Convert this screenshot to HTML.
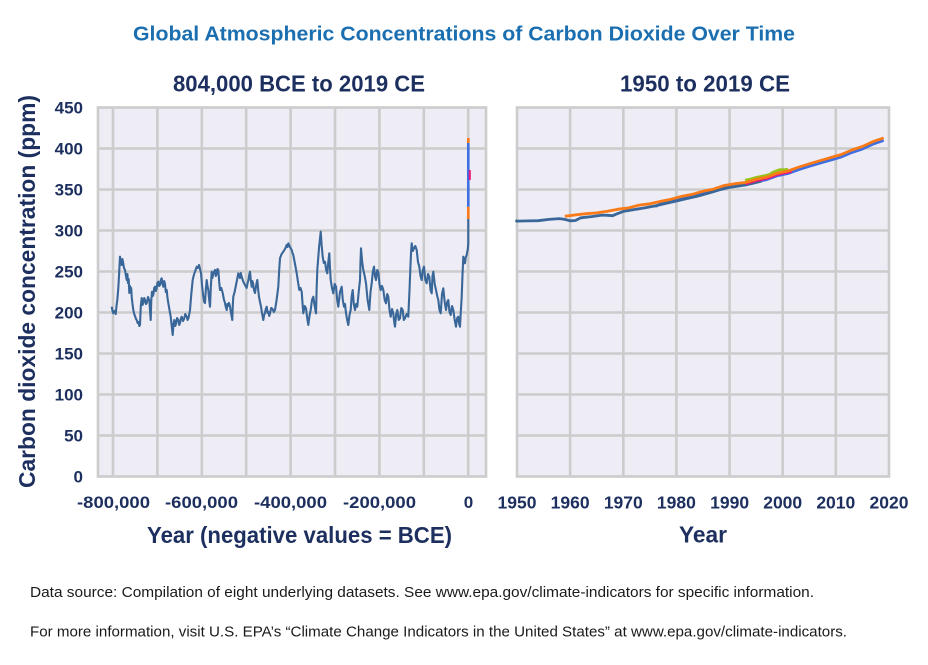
<!DOCTYPE html>
<html>
<head>
<meta charset="utf-8">
<style>
  html, body { margin: 0; padding: 0; background: #ffffff; }
  svg { display: block; }
  text { font-family: "Liberation Sans", sans-serif; }
</style>
</head>
<body>
<svg width="928" height="665" viewBox="0 0 928 665" xmlns="http://www.w3.org/2000/svg">
  <rect x="0" y="0" width="928" height="665" fill="#ffffff"/>

  <!-- Title -->
  <text x="133" y="40.5" font-size="20" font-weight="bold" fill="#1b6fb0" textLength="662" lengthAdjust="spacingAndGlyphs">Global Atmospheric Concentrations of Carbon Dioxide Over Time</text>

  <!-- Subtitles -->
  <text x="173" y="91.5" font-size="23" font-weight="bold" fill="#1c2f5e" textLength="252" lengthAdjust="spacingAndGlyphs">804,000 BCE to 2019 CE</text>
  <text x="620" y="91.5" font-size="23" font-weight="bold" fill="#1c2f5e" textLength="170" lengthAdjust="spacingAndGlyphs">1950 to 2019 CE</text>

  <!-- LEFT PLOT -->
  <rect x="98" y="107.5" width="388" height="369" fill="#eeecf5"/>
  <g stroke="#cccccc" stroke-width="2.6" fill="none">
    <line x1="113" y1="107.5" x2="113" y2="476.5"/>
    <line x1="157.4" y1="107.5" x2="157.4" y2="476.5"/>
    <line x1="201.8" y1="107.5" x2="201.8" y2="476.5"/>
    <line x1="246.2" y1="107.5" x2="246.2" y2="476.5"/>
    <line x1="290.6" y1="107.5" x2="290.6" y2="476.5"/>
    <line x1="335" y1="107.5" x2="335" y2="476.5"/>
    <line x1="379.4" y1="107.5" x2="379.4" y2="476.5"/>
    <line x1="423.8" y1="107.5" x2="423.8" y2="476.5"/>
    <line x1="468.2" y1="107.5" x2="468.2" y2="476.5"/>
    <line x1="98" y1="148.5" x2="486" y2="148.5"/>
    <line x1="98" y1="189.5" x2="486" y2="189.5"/>
    <line x1="98" y1="230.5" x2="486" y2="230.5"/>
    <line x1="98" y1="271.5" x2="486" y2="271.5"/>
    <line x1="98" y1="312.5" x2="486" y2="312.5"/>
    <line x1="98" y1="353.5" x2="486" y2="353.5"/>
    <line x1="98" y1="394.5" x2="486" y2="394.5"/>
    <line x1="98" y1="435.5" x2="486" y2="435.5"/>
    <rect x="98" y="107.5" width="388" height="369"/>
  </g>

  <!-- left historical series -->
  <polyline fill="none" stroke="#3a6799" stroke-width="2.1" stroke-linejoin="round" points="
111.7,306.7 112.5,311 113.3,313.3 114.5,311 115.7,314 116.5,306 117.3,300 118,292 118.5,285 119.3,270 120,256.7 120.8,262 121.7,265 122.4,259 123,262 124,268 125,270 125.8,275 126.7,280 127.4,274 128,283 128.7,279 129.3,293 130,286 130.5,291 131.2,288 131.7,296.7 132.5,304 133.3,310 134.2,314 135,316 136,319 136.7,320 137.6,323 138.5,322 139.3,326 140,325 140.8,306 141.7,298 142.5,305 143.3,303 144.2,298 145,300 146,304 146.7,303 148,297 149.3,300 150,310 150.7,320 151.3,300 152,291.7 152.8,296 153.5,294 154.2,288 155,286.7 155.8,291 156.5,289 157.4,283 158.3,281.7 159.2,286 160,285 160.8,280 161.7,278.3 162.5,284 163.3,286.7 164.2,281 165,284 165.8,292 166.7,290 167.5,298 168.3,303 169.5,310 170.7,316.7 171.7,326 172.7,335 173.5,324 174.3,320 175.2,326 176,324 177,318 178.3,320 179.2,325 180,323 181,318 181.7,316.7 183,321 184,319 185.3,314 186.7,316.7 187.6,320 188.5,318 189.3,314 190,310 191.3,294 192.7,280 193.6,276 194.5,273 195.6,270 196.7,266.7 197.8,268 199,265 200,269 201,273 202,285 203.3,296.7 204.2,302 205,303 205.8,290 206.7,280 207.5,286 208.3,290 209.2,300 210,306.7 210.8,288 211.7,271.7 212.4,278 213,275 214,272 215,270 215.8,276 216.5,274 217.4,269 218.3,270 219.2,282 220,290 221.3,288 222.7,293 223.8,299 225,303 225.8,307 226.7,310 227.4,304 228,306 229,303 230,306.7 231.2,314 232.3,320 232.8,305 233.3,296.7 234.6,292 236,285 237.2,279 238.3,273.3 239.2,276 240,278 240.8,273 241.5,276 242.4,279 243.3,281.7 245,285 246.7,288 247.6,283 248.5,280 249.2,275 250,271.7 250.8,280 251.7,286.7 252.4,281 253,283 254,290 255,293 256.2,285 257.3,280 258.2,290 259,296.7 260,302 261,306.7 262.2,314 263.3,320 264.2,315 265,313 265.8,309 266.7,306.7 267.6,313 268.5,312 269.2,316 270,313.3 271.2,308 272.5,309 273.8,312 275,310 276.6,300 278.3,286.7 279.2,270 280,258.3 281.6,254 283.3,251.7 285,249 286.7,245 287.5,247 288.3,243.3 290,247 291.7,250 292.5,253 293.3,255 295,264 296.7,273.3 298,282 299.3,290 300.5,288 301.7,291.7 302.5,303 303.3,313.3 304.7,306 306,308.3 307.2,318 308.3,325 309.5,316 310.7,310 312,300 313.3,296.7 314.7,306 316,313.3 316.6,290 317.3,270 319,248 320.7,231.7 321.7,246 322.7,256.7 323.8,263 325,261.7 326.2,270 327.3,273.3 328.3,262 329.3,253.3 330,268 330.7,280 332,288 333.3,293.3 334.7,284 336,286.7 337.2,300 338.3,306.7 340,292 341.7,286.7 342.8,300 344,306.7 345,304 346,313.3 347.2,320 348.3,325 349.5,315 350.7,310 351.7,296 352.7,290 353.8,304 355,310 356.2,304 357.3,306.7 358.7,292 360,280 360.5,262 361,248.3 362.2,262 363.3,270 364.7,276 366,283.3 367.6,300 369.3,310 370.5,292 371.7,283.3 372.8,272 374,266.7 375,276 376,280 377.2,270 378.3,271.7 379.5,284 380.7,290 382,286 383.3,290 384.7,300 386,303.3 387.2,294 388.3,296.7 389.5,310 390.7,316.7 392,309 393.3,313.3 394.2,322 395,326.7 396.2,314 397.3,310 398.7,320 400,318.3 401.3,308 402.7,310 403.8,320 405,318.3 406.7,314 408.3,316.7 409.5,290 410.7,260 411.2,250 411.7,243.3 412.8,251 414,248.3 415.3,246 416.7,250 418,262 419.3,266.7 420.5,276 421.7,280 422.8,270 424,266.7 425.3,280 426.7,283.3 428,274 429.3,276.7 430.5,290 431.7,293.3 432.5,276 433.3,271.7 434.7,284 436,290 437.2,296 438.3,300 439.5,310 440.7,313.3 442,294 443.3,288.3 444.7,302 446,310 447.2,302 448.3,300 449.5,312 450.7,315 452,306 453.3,310 454.7,320 456,326.7 457.2,318 458.3,316.7 459.2,324 460,326.7 460.8,312 461.7,296.7 462.5,275 463.3,256.7 464.2,260 465,263.3 465.8,257 466.7,255 467.2,252 467.7,250 468.3,243.3 468.3,218"/>
  <!-- modern spike -->
  <line x1="468.3" y1="219" x2="468.3" y2="206.7" stroke="#f97a16" stroke-width="2.6"/>
  <line x1="468.3" y1="206.7" x2="468.3" y2="143" stroke="#3f6fe0" stroke-width="2.6"/>
  <line x1="469.8" y1="180" x2="469.8" y2="170" stroke="#e8177d" stroke-width="2"/>
  <line x1="468.3" y1="143" x2="468.3" y2="138" stroke="#f97a16" stroke-width="2.6"/>

  <!-- RIGHT PLOT -->
  <rect x="517" y="107.5" width="372" height="369" fill="#eeecf5"/>
  <g stroke="#cccccc" stroke-width="2.6" fill="none">
    <line x1="570.1" y1="107.5" x2="570.1" y2="476.5"/>
    <line x1="623.3" y1="107.5" x2="623.3" y2="476.5"/>
    <line x1="676.4" y1="107.5" x2="676.4" y2="476.5"/>
    <line x1="729.6" y1="107.5" x2="729.6" y2="476.5"/>
    <line x1="782.7" y1="107.5" x2="782.7" y2="476.5"/>
    <line x1="835.8" y1="107.5" x2="835.8" y2="476.5"/>
    <line x1="517" y1="148.5" x2="889" y2="148.5"/>
    <line x1="517" y1="189.5" x2="889" y2="189.5"/>
    <line x1="517" y1="230.5" x2="889" y2="230.5"/>
    <line x1="517" y1="271.5" x2="889" y2="271.5"/>
    <line x1="517" y1="312.5" x2="889" y2="312.5"/>
    <line x1="517" y1="353.5" x2="889" y2="353.5"/>
    <line x1="517" y1="394.5" x2="889" y2="394.5"/>
    <line x1="517" y1="435.5" x2="889" y2="435.5"/>
    <rect x="517" y="107.5" width="372" height="369"/>
  </g>

  <!-- Cape Grim-like blue -->
  <polyline fill="none" stroke="#3f6fe0" stroke-width="2.8" stroke-linejoin="round" points="
655.2,206.5 660.5,203.9 671.1,201.7 681.7,198.9 692.4,196.8 703,193.7 713.6,191.6 724.2,188 734.9,186.2 745.5,185 756.1,181.8 766.8,179.6 777.4,175.7 788,173.5 798.6,169.7 809.3,166.3 819.9,163.2 830.5,160.1 841.2,157 851.8,152.5 862.4,149 873,144.1 883.7,140.4"/>
  <!-- historical blue-gray -->
  <polyline fill="none" stroke="#3a6799" stroke-width="2.8" stroke-linejoin="round" points="
515.5,220.3 517,221.1 527.6,220.9 538.3,220.7 548.9,219.4 554.2,219 559.5,218.6 564.8,219.4 570.1,220.8 575.5,220.5 580.8,217.8 591.4,216.6 602.1,215.1 607.4,215.3 612.7,215.7 618,213.4 623.3,211.4 633.9,209.6 644.6,207.9 655.2,205.9 665.8,203.4 676.4,201 687.1,198.5 697.7,196.1 708.3,193.2 719,189.9 729.6,187.4 740.3,185.8 750.9,183.8 761.5,181.2"/>
  <!-- green -->
  <polyline fill="none" stroke="#9ac31c" stroke-width="2.8" stroke-linejoin="round" points="
745,180.3 750,179.2 756.1,177.5 762,176.2 766.8,175.2 770,174.2 773,172.2 777.4,170.6 780,169.6 784,169.8 788,169.2"/>
  <!-- pink -->
  <polyline fill="none" stroke="#e8177d" stroke-width="2.4" stroke-linejoin="round" points="
745.5,184 756.1,180.8 766.8,178.6 777.4,174.7 788,172.5 792,171.4"/>
  <!-- orange Mauna Loa -->
  <polyline fill="none" stroke="#f97a16" stroke-width="2.8" stroke-linejoin="round" points="
564.8,216.2 570.1,215.6 575.5,214.9 586.1,213.7 596.7,212.9 607.3,211.3 618,209.2 628.6,207.9 639.2,205.1 649.9,203.8 660.5,201.4 671.1,199.2 681.7,196.4 692.4,194.3 703,191.2 713.6,189.1 724.2,185.5 734.9,183.7 745.5,182.5 756.1,179.3 766.8,177.1 777.4,173.2 788,171 798.6,167.2 809.3,163.8 819.9,160.7 830.5,157.6 841.2,154.5 851.8,150 862.4,146.5 873,141.6 883.7,137.9"/>

  <!-- Y tick labels -->
  <g font-size="17" font-weight="bold" fill="#1c2f5e" text-anchor="end">
    <text x="83" y="113.5">450</text>
    <text x="83" y="154.5">400</text>
    <text x="83" y="195.5">350</text>
    <text x="83" y="236.5">300</text>
    <text x="83" y="277.5">250</text>
    <text x="83" y="318.5">200</text>
    <text x="83" y="359.5">150</text>
    <text x="83" y="400.5">100</text>
    <text x="83" y="441.5">50</text>
    <text x="83" y="482.5">0</text>
  </g>

  <!-- Y axis title -->
  <text transform="translate(35,291.5) rotate(-90)" text-anchor="middle" font-size="23" font-weight="bold" fill="#1c2f5e" textLength="393" lengthAdjust="spacingAndGlyphs">Carbon dioxide concentration (ppm)</text>

  <!-- Left X tick labels -->
  <g font-size="17" font-weight="bold" fill="#1c2f5e" text-anchor="middle">
    <text x="113.5" y="508" textLength="73" lengthAdjust="spacingAndGlyphs">-800,000</text>
    <text x="201.5" y="508" textLength="73" lengthAdjust="spacingAndGlyphs">-600,000</text>
    <text x="290.5" y="508" textLength="73" lengthAdjust="spacingAndGlyphs">-400,000</text>
    <text x="379.5" y="508" textLength="73" lengthAdjust="spacingAndGlyphs">-200,000</text>
    <text x="468.5" y="508">0</text>
  </g>

  <!-- Right X tick labels -->
  <g font-size="17.5" font-weight="bold" fill="#1c2f5e" text-anchor="middle">
    <text x="517" y="508.5">1950</text>
    <text x="570.1" y="508.5">1960</text>
    <text x="623.3" y="508.5">1970</text>
    <text x="676.4" y="508.5">1980</text>
    <text x="729.6" y="508.5">1990</text>
    <text x="782.7" y="508.5">2000</text>
    <text x="835.8" y="508.5">2010</text>
    <text x="889" y="508.5">2020</text>
  </g>

  <!-- X axis titles -->
  <text x="147" y="543" font-size="23" font-weight="bold" fill="#1c2f5e" textLength="305" lengthAdjust="spacingAndGlyphs">Year (negative values = BCE)</text>
  <text x="679" y="542.5" font-size="23" font-weight="bold" fill="#1c2f5e" textLength="48" lengthAdjust="spacingAndGlyphs">Year</text>

  <!-- Footer -->
  <text x="30" y="597" font-size="14.8" fill="#1a1a1a" textLength="784" lengthAdjust="spacingAndGlyphs">Data source: Compilation of eight underlying datasets. See www.epa.gov/climate-indicators for specific information.</text>
  <text x="30" y="636.7" font-size="14.8" fill="#1a1a1a" textLength="817" lengthAdjust="spacingAndGlyphs">For more information, visit U.S. EPA’s “Climate Change Indicators in the United States” at www.epa.gov/climate-indicators.</text>
</svg>
</body>
</html>
